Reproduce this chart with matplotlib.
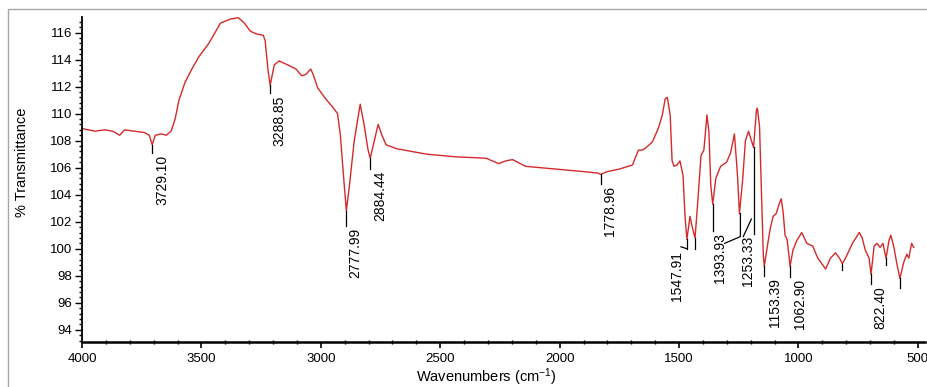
import matplotlib
matplotlib.use("Agg")
import matplotlib.pyplot as plt
from matplotlib.patches import Rectangle
from matplotlib.ticker import MultipleLocator

# FTIR spectrum
wavenumber = [4000, 3946, 3905, 3871, 3842, 3822, 3780, 3739, 3718, 3706, 3693, 3668,
              3647, 3627, 3610, 3594, 3569, 3540, 3511, 3469, 3420, 3378, 3345, 3320,
              3295, 3270, 3241, 3233, 3221, 3212, 3195, 3175, 3138, 3104, 3080, 3063,
              3042, 3030, 3013, 2980, 2951, 2930, 2918, 2905, 2893, 2880, 2860, 2835,
              2818, 2802, 2793, 2781, 2760, 2744, 2727, 2682, 2557, 2433, 2308, 2255,
              2226, 2197, 2143, 2018, 1894, 1840, 1827, 1803, 1749, 1695, 1670, 1653,
              1637, 1612, 1587, 1570, 1558, 1549, 1537, 1529, 1521, 1508, 1496, 1483,
              1475, 1467, 1454, 1446, 1433, 1421, 1408, 1396, 1383, 1375, 1367, 1359,
              1346, 1326, 1301, 1284, 1268, 1255, 1247, 1234, 1222, 1209, 1197, 1188,
              1176, 1172, 1163, 1155, 1147, 1143, 1130, 1118, 1106, 1093, 1081, 1072,
              1064, 1056, 1048, 1044, 1035, 1023, 1007, 986, 965, 940, 919, 886,
              866, 845, 828, 816, 803, 774, 745, 733, 720, 704, 696, 683,
              671, 658, 646, 633, 621, 613, 600, 588, 575, 559, 546, 538,
              526, 517]
transmittance = [108.9, 108.7, 108.8, 108.7, 108.4, 108.8, 108.7, 108.6, 108.4, 107.7, 108.4, 108.5,
                 108.4, 108.7, 109.6, 111.0, 112.3, 113.3, 114.2, 115.2, 116.7, 117.0, 117.1, 116.7,
                 116.1, 115.9, 115.8, 115.4, 113.2, 112.1, 113.6, 113.9, 113.6, 113.3, 112.8, 112.9,
                 113.3, 112.8, 111.9, 111.1, 110.5, 110.0, 108.4, 105.4, 102.8, 104.7, 108.0, 110.7,
                 109.1, 107.3, 106.7, 107.6, 109.2, 108.4, 107.7, 107.4, 107.0, 106.8, 106.7, 106.3,
                 106.5, 106.6, 106.1, 105.9, 105.7, 105.6, 105.5, 105.7, 105.9, 106.2, 107.3, 107.3,
                 107.5, 107.9, 108.9, 109.9, 111.1, 111.2, 109.9, 106.5, 106.1, 106.2, 106.5, 105.4,
                 102.4, 100.7, 102.4, 101.7, 100.8, 103.6, 106.9, 107.3, 109.9, 108.7, 104.7, 103.3,
                 105.2, 106.1, 106.4, 107.1, 108.5, 105.4, 102.6, 105.0, 108.0, 108.7, 108.0, 107.5,
                 110.2, 110.4, 109.1, 104.3, 99.5, 98.7, 100.2, 101.5, 102.4, 102.6, 103.3, 103.7,
                 102.7, 101.0, 100.7, 100.2, 98.7, 99.9, 100.6, 101.2, 100.4, 100.2, 99.3, 98.5,
                 99.3, 99.7, 99.3, 98.9, 99.3, 100.4, 101.2, 100.8, 99.9, 99.3, 98.1, 100.2,
                 100.4, 100.1, 100.4, 99.3, 100.6, 101.0, 100.1, 98.9, 97.8, 99.0, 99.6, 99.3,
                 100.4, 100.1]

# peak labels: text, where the tick sits, curve value there, tick end
peak_labels = ["3729.10", "3288.85", "2777.99", "2884.44", "1778.96", "1547.91",
               "1393.93", "1253.33", "1153.39", "1062.90", "822.40"]
peak_wn = [3706, 3212, 2893, 2793, 1827, 1467, 1359, 1188, 1143, 1035, 696]
peak_T = [107.7, 112.1, 102.8, 106.7, 105.5, 100.7, 103.3, 107.5, 98.7, 98.7, 98.1]
peak_end = [107.1, 111.5, 101.7, 105.9, 104.8, 100.0, 101.3, 101.1, 98.0, 97.9, 97.4]
# ticks drawn with no label
bare_wn = [1433, 816, 633, 575]
bare_T = [100.8, 98.9, 99.3, 97.8]
bare_end = [100.0, 98.4, 98.8, 97.1]

# horizontal shift of each label text from its tick, in points
label_dx = [7, 7, 6.5, 7, 6.5, -7, 5.5, -4, 8, 7, 6.5]

plt.rcParams['font.family'] = ['Liberation Sans', 'DejaVu Sans']
plt.rcParams['mathtext.default'] = 'regular'

fig = plt.figure(figsize=(9.28, 3.87), dpi=100)
ax = fig.add_axes([82/928, 45/387, 843/928, 325/387])

ax.plot(wavenumber, transmittance, color='#d42a2a', lw=1.0)

for txt, x, y0, y1, dx in zip(peak_labels, peak_wn, peak_T, peak_end, label_dx):
    ax.plot([x, x], [y0, y1], color='black', lw=0.9)
    ax.annotate(txt, xy=(x, y1), xytext=(dx, -1.5), textcoords='offset points',
                rotation=90, ha='center', va='top', fontsize=10)
for x, y0, y1 in zip(bare_wn, bare_T, bare_end):
    ax.plot([x, x], [y0, y1], color='black', lw=0.9)

# crooked leaders around 1547 / 1253
ax.plot([1467, 1492], [100.0, 100.15], color='black', lw=0.9)
ax.plot([1243, 1243, 1309], [102.6, 100.9, 100.4], color='black', lw=0.9)
ax.plot([1197, 1231], [102.2, 100.9], color='black', lw=0.9)

ax.set_xlim(4000, 470)
ax.set_ylim(93.1, 117.15)
ax.xaxis.set_major_locator(MultipleLocator(500))
ax.xaxis.set_minor_locator(MultipleLocator(100))
ax.yaxis.set_major_locator(MultipleLocator(2))
ax.yaxis.set_minor_locator(MultipleLocator(0.4))

for s in ['top', 'right']:
    ax.spines[s].set_visible(False)
ax.spines['left'].set_linewidth(1.3)
ax.spines['bottom'].set_linewidth(1.8)

ax.tick_params(axis='x', which='major', direction='out', length=4, width=1.2, labelsize=9.5, pad=4)
ax.tick_params(axis='x', which='minor', direction='inout', length=3, width=1)
ax.tick_params(axis='y', which='major', direction='out', length=5, width=1, labelsize=9.5, pad=2)
ax.tick_params(axis='y', which='minor', direction='out', length=2, width=1)

ax.set_xlabel('Wavenumbers (cm$^{-1}$)', fontsize=10.5, va='center')
ax.xaxis.set_label_coords(0.48, -0.108)
ax.set_ylabel('% Transmittance', fontsize=10.5, va='center')
ax.yaxis.set_label_coords(-0.071, 0.554)

# light frame round the picture
fig.patches.append(Rectangle((8/928, -0.05), 1.0, (378/387) + 0.05, transform=fig.transFigure,
                             fill=False, edgecolor='#a8a8a8', lw=1.0))

fig.savefig('out.png', dpi=100)
